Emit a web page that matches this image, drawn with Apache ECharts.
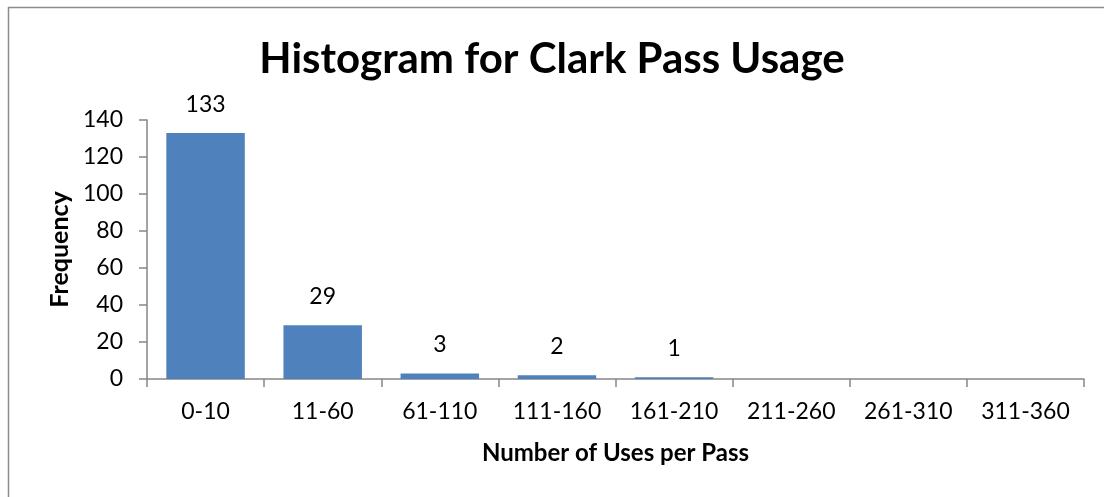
<!DOCTYPE html>
<html>
<head>
<meta charset="utf-8">
<script src="https://cdn.jsdelivr.net/npm/echarts@6/dist/echarts.min.js"></script>
<style>
  html, body { margin: 0; padding: 0; background: #fff; }
  #chart { width: 1104px; height: 497px; }
</style>
</head>
<body>
<div id="chart"></div>
<script>
// Usage bins and how many passes fall in each
const categories = ['0-10', '11-60', '61-110', '111-160', '161-210', '211-260', '261-310', '311-360'];
const frequency = [133, 29, 3, 2, 1, 0, 0, 0];
const yTicks = { min: 0, max: 140, interval: 20 };

const FONT = 'Lato';
const AXIS = '#868686';

const chart = echarts.init(document.getElementById('chart'));
chart.setOption({
  animation: false,
  backgroundColor: '#fff',
  textStyle: { fontFamily: FONT },
  title: {
    text: 'Histogram for Clark Pass Usage',
    left: 'center',
    top: 33,
    textStyle: { fontFamily: FONT, fontWeight: 'bold', fontSize: 42, color: '#000' }
  },
  graphic: [
    { type: 'line', shape: { x1: 8, y1: 7.5, x2: 1104, y2: 7.5 }, style: { stroke: '#8c8c8c', lineWidth: 1.5 } },
    { type: 'line', shape: { x1: 8.5, y1: 7, x2: 8.5, y2: 497 }, style: { stroke: '#8c8c8c', lineWidth: 1.5 } }
  ],
  grid: { left: 147, right: 20, top: 120, bottom: 118, containLabel: false },
  xAxis: {
    type: 'category',
    data: categories,
    name: 'Number of Uses per Pass',
    nameLocation: 'middle',
    nameGap: 62,
    nameTextStyle: { fontFamily: FONT, fontWeight: 'bold', fontSize: 24, color: '#000' },
    axisLine: { lineStyle: { color: AXIS, width: 1.5 } },
    axisTick: { show: true, alignWithLabel: false, length: 8, lineStyle: { color: AXIS, width: 1.5 } },
    axisLabel: { fontFamily: FONT, fontSize: 23, color: '#000', margin: 21, interval: 0 }
  },
  yAxis: {
    type: 'value',
    min: yTicks.min,
    max: yTicks.max,
    interval: yTicks.interval,
    name: 'Frequency',
    nameLocation: 'middle',
    nameGap: 72,
    nameTextStyle: { fontFamily: FONT, fontWeight: 'bold', fontSize: 25, color: '#000' },
    axisLine: { show: true, lineStyle: { color: AXIS, width: 1.5 } },
    axisTick: { show: true, length: 8, lineStyle: { color: AXIS, width: 1.5 } },
    axisLabel: { fontFamily: FONT, fontSize: 23, color: '#000', margin: 24 },
    splitLine: { show: false }
  },
  series: [{
    type: 'bar',
    data: frequency.map((v, i) => ({ value: v, label: { show: i < 5 } })),
    barCategoryGap: '33%',
    itemStyle: { color: '#4F81BD' },
    label: {
      position: 'top',
      distance: 17,
      fontFamily: FONT,
      fontSize: 23,
      color: '#000'
    }
  }]
});
</script>
</body>
</html>
